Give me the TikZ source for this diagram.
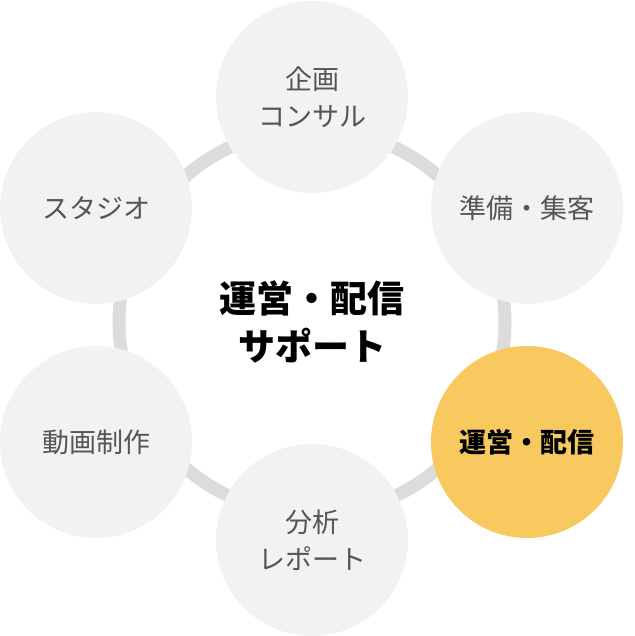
\documentclass[tikz,border=0pt]{standalone}
\usepackage{fontspec}
\setmainfont{Noto Sans CJK JP}
\newfontfamily\midfont{Noto Sans CJK JP Medium}
\usepackage{tikz}
\definecolor{ringgray}{HTML}{DCDCDC}
\definecolor{discgray}{HTML}{F2F2F2}
\definecolor{textgray}{HTML}{555555}
\definecolor{accent}{HTML}{F7C95E}
\tikzset{
  disc/.style={circle,fill=discgray,minimum size=192pt,inner sep=0pt,text=textgray,
    font=\fontsize{27pt}{37pt}\selectfont,align=center},
  hot/.style={disc,fill=accent,text=black,font=\fontsize{27pt}{37pt}\selectfont\bfseries}
}
\begin{document}
\begin{tikzpicture}[x=1pt,y=-1pt]
		\useasboundingbox (0,0) rectangle (634,636);
		\draw[ringgray,line width = 13pt] (312,322) circle (193);
		\node[disc] (plan) at (312,97){企画\\コンサル};
		\node[disc] (prep) at (527,208){準備・集客};
		\node[hot] (run) at (527,442){運営・配信};
		\node[disc] (report) at (312,540){分析\\レポート};
		\node[disc] (video) at (96,442){動画制作};
		\node[disc] (studio) at (96,208){スタジオ};
		\node[font=\fontsize{37pt}{48pt}\selectfont\bfseries,align=center] (core) at (312,322){運営・配信\\サポート};
\end{tikzpicture}
\end{document}
